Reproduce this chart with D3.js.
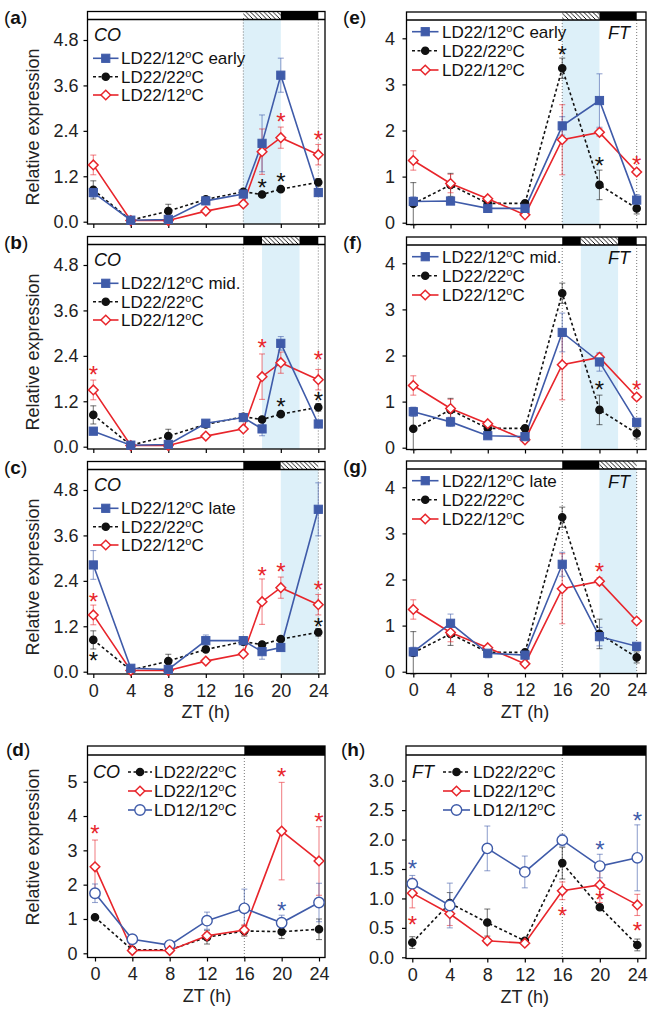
<!DOCTYPE html>
<html><head><meta charset="utf-8">
<script src="https://cdn.jsdelivr.net/npm/d3@7"></script>
<style>
body{margin:0;background:#fff}
svg{display:block}
text{font-family:"Liberation Sans",Arial,sans-serif}
</style>
</head><body>
<svg id="c" width="659" height="1018"></svg>
<script>
// ---------------- DATA ----------------
const hoursCO = [0, 4, 8, 12, 16, 18, 20, 24];
const hoursFT = [0, 4, 8, 12, 16, 20, 24];
const hoursD = [0, 4, 8, 12, 16, 20, 24];
const xTicks = [0, 4, 8, 12, 16, 20, 24];

// CO, panels a-c
const co22_22 = [0.84, 0.04, 0.28, 0.59, 0.79, 0.72, 0.86, 1.04];
const co22_22Err = [0.24, 0.03, 0.18, 0.05, 0.06, 0.05, 0.06, 0.10];
const co22_12 = [1.50, 0.03, 0.03, 0.28, 0.47, 1.85, 2.22, 1.77];
const co22_12Err = [0.26, 0.03, 0.03, 0.04, 0.05, 0.60, 0.28, 0.27];
const coEarly = [0.77, 0.04, 0.06, 0.55, 0.73, 2.07, 3.87, 0.77];
const coEarlyErr = [0.12, 0.03, 0.03, 0.05, 0.06, 0.75, 0.45, 0.10];
const coMid = [0.41, 0.04, 0.06, 0.62, 0.77, 0.47, 2.73, 0.60];
const coMidErr = [0.05, 0.03, 0.03, 0.05, 0.06, 0.18, 0.18, 0.06];
const coLate = [2.82, 0.09, 0.06, 0.82, 0.82, 0.53, 0.64, 4.29];
const coLateErr = [0.38, 0.03, 0.03, 0.15, 0.06, 0.20, 0.06, 0.70];

// FT, panels e-g
const ft22_22 = [0.41, 0.82, 0.42, 0.42, 3.35, 0.82, 0.31];
const ft22_22Err = [0.46, 0.25, 0.05, 0.05, 0.22, 0.32, 0.12];
const ft22_12 = [1.35, 0.85, 0.52, 0.17, 1.80, 1.96, 1.10];
const ft22_12Err = [0.21, 0.20, 0.05, 0.05, 0.76, 0.08, 0.06];
const ftEarly = [0.46, 0.47, 0.31, 0.31, 2.10, 2.65, 0.49];
const ftEarlyErr = [0.10, 0.06, 0.05, 0.05, 0.20, 0.58, 0.12];
const ftMid = [0.78, 0.56, 0.26, 0.24, 2.50, 1.86, 0.55];
const ftMidErr = [0.10, 0.10, 0.05, 0.05, 0.42, 0.20, 0.05];
const ftLate = [0.43, 1.05, 0.40, 0.36, 2.33, 0.76, 0.55];
const ftLateErr = [0.10, 0.20, 0.10, 0.05, 0.26, 0.20, 0.05];

// CO, panel d
const d22_22 = [1.05, 0.10, 0.10, 0.47, 0.65, 0.63, 0.70];
const d22_22Err = [0.05, 0.03, 0.03, 0.20, 0.15, 0.20, 0.30];
const d22_12 = [2.52, 0.08, 0.08, 0.51, 0.68, 3.56, 2.69];
const d22_12Err = [0.78, 0.03, 0.03, 0.10, 0.15, 1.42, 1.00];
const d12_12 = [1.75, 0.41, 0.24, 0.95, 1.31, 0.89, 1.48];
const d12_12Err = [0.27, 0.12, 0.05, 0.25, 0.56, 0.22, 0.56];

// FT, panel h
const h22_22 = [0.25, 0.92, 0.59, 0.28, 1.60, 0.85, 0.21];
const h22_22Err = [0.10, 0.18, 0.23, 0.03, 0.27, 0.04, 0.10];
const h22_12 = [1.09, 0.74, 0.28, 0.24, 1.13, 1.23, 0.89];
const h22_12Err = [0.25, 0.20, 0.04, 0.03, 0.15, 0.30, 0.18];
const h12_12 = [1.25, 0.88, 1.85, 1.45, 1.99, 1.55, 1.69];
const h12_12Err = [0.14, 0.38, 0.38, 0.27, 0.10, 0.20, 0.56];

// y tick labels
const yTicksCO = [0, 1.2, 2.4, 3.6, 4.8];
const yTicksFT = [0, 1, 2, 3, 4];
const yTicksD = [0, 1, 2, 3, 4, 5];
const yTicksH = [0, 0.5, 1.0, 1.5, 2.0, 2.5, 3.0];

// significance asterisks: [hour, value-position, group]
const starsA = [[18, 1.03, 'k'], [20, 1.19, 'k'], [20, 2.76, 'r'], [24, 2.29, 'r']];
const starsB = [[0, 2.03, 'r'], [18, 2.73, 'r'], [24, 2.41, 'r'], [20, 1.19, 'k'], [24, 1.35, 'k']];
const starsC = [[0, 1.98, 'r'], [18, 2.67, 'r'], [20, 2.76, 'r'], [24, 2.29, 'r'], [0, 0.41, 'k'], [24, 1.32, 'k']];
const starsE = [[16, 3.75, 'k'], [20, 1.34, 'k'], [24, 1.37, 'r']];
const starsF = [[20, 1.37, 'k'], [24, 1.37, 'r']];
const starsG = [[20, 2.27, 'r']];
const starsD = [[0, 3.61, 'r'], [20, 5.29, 'r'], [24, 3.98, 'r'], [20, 1.38, 'b']];
const starsH = [[0, 1.58, 'b'], [20, 1.91, 'b'], [24, 2.40, 'b'], [0, 0.63, 'r'], [16, 0.78, 'r'], [20, 1.05, 'r'], [24, 0.53, 'r']];

// light/dark bar segments: [from, to(null = frame edge), kind]; blue-shaded cold window
const barA = [[16, 20, 'hatch'], [20, 24, 'dark']];
const barB = [[16, 18, 'dark'], [18, 22, 'hatch'], [22, 24, 'dark']];
const barC = [[16, 20, 'dark'], [20, 24, 'hatch']];
const barD = [[16, null, 'dark']];
const shadeA = [16, 20], shadeB = [18, 22], shadeC = [20, 24];

// ---------------- STYLES ----------------
const BLUE = '#3f5ba9', RED = '#e8252b', BLACK = '#111';
const starColor = {k: '#111', r: RED, b: BLUE};
const sty = {
  ctrl: {color: BLACK, dash: '3,2.5', marker: 'circle', fill: BLACK, r: 3.6},
  cold: {color: RED, dash: null, marker: 'diamond', fill: '#fff', r: 4.8},
  blue: {color: BLUE, dash: null, marker: 'square', fill: BLUE, r: 4.1},
  blueO: {color: BLUE, dash: null, marker: 'circle', fill: '#fff', r: 5.2}
};

const svg = d3.select('#c');
const defs = svg.append('defs');
const pat = defs.append('pattern').attr('id', 'hatch').attr('patternUnits', 'userSpaceOnUse')
  .attr('width', 4.5).attr('height', 4.5);
pat.append('rect').attr('width', 4.5).attr('height', 4.5).attr('fill', '#fff');
pat.append('path').attr('d', 'M0,0L4.5,4.5M-1,3.5L1,5.5M3.5,-1L5.5,1')
  .attr('stroke', '#000').attr('stroke-width', 0.9);

function degText(sel, pre, post) {
  sel.append('tspan').text(pre);
  sel.append('tspan').attr('font-size', 11).attr('dy', -6).text('o');
  sel.append('tspan').attr('dy', 6).text(post);
}

function marker(g, st, cx, cy) {
  if (st.marker === 'circle') {
    g.append('circle').attr('cx', cx).attr('cy', cy).attr('r', st.r)
      .attr('fill', st.fill).attr('stroke', st.color).attr('stroke-width', 1.4);
  } else if (st.marker === 'square') {
    g.append('rect').attr('x', cx - st.r).attr('y', cy - st.r).attr('width', 2 * st.r).attr('height', 2 * st.r)
      .attr('fill', st.fill).attr('stroke', st.color).attr('stroke-width', 1);
  } else {
    const h = st.r;
    g.append('path').attr('d', `M${cx},${cy - h}L${cx + h},${cy}L${cx},${cy + h}L${cx - h},${cy}Z`)
      .attr('fill', st.fill).attr('stroke', st.color).attr('stroke-width', 1.5);
  }
}

function drawPanel(p) {
  const g = svg.append('g');
  const x = d3.scaleLinear().domain([0, 24]).range([p.x0, p.x24]);
  const y = d3.scaleLinear().domain([0, p.yRef]).range([p.y0, p.yRefPx]);

  if (p.shade) {
    g.append('rect').attr('x', x(p.shade[0])).attr('y', p.plotTop)
      .attr('width', x(p.shade[1]) - x(p.shade[0])).attr('height', p.bottom - p.plotTop)
      .attr('fill', '#ddf0f9');
  }
  p.vlines.forEach(h => {
    g.append('line').attr('x1', x(h)).attr('x2', x(h)).attr('y1', p.plotTop).attr('y2', p.bottom)
      .attr('stroke', '#777').attr('stroke-width', 1).attr('stroke-dasharray', '1,2');
  });
  // light/dark bar
  g.append('rect').attr('x', p.left).attr('y', p.barTop).attr('width', p.right - p.left)
    .attr('height', p.plotTop - p.barTop).attr('fill', '#fff');
  p.bar.forEach(([a, b, kind]) => {
    const x1 = x(a), x2 = b === null ? p.right : x(b);
    g.append('rect').attr('x', x1).attr('y', p.barTop).attr('width', x2 - x1)
      .attr('height', p.plotTop - p.barTop)
      .attr('fill', kind === 'dark' ? '#000' : 'url(#hatch)');
  });
  g.append('line').attr('x1', p.left).attr('x2', p.right).attr('y1', p.plotTop).attr('y2', p.plotTop)
    .attr('stroke', '#000').attr('stroke-width', 1.3);
  g.append('rect').attr('x', p.left).attr('y', p.barTop).attr('width', p.right - p.left)
    .attr('height', p.bottom - p.barTop).attr('fill', 'none').attr('stroke', '#000').attr('stroke-width', 1.3);

  // axes
  const ya = g.append('g').attr('transform', `translate(${p.left},0)`)
    .call(d3.axisLeft(y).tickValues(p.yTicks).tickSize(4).tickPadding(p.yPad)
      .tickFormat(p.yFmt ? d3.format(p.yFmt) : d3.format('d')));
  ya.select('.domain').remove();
  ya.selectAll('text').attr('font-size', 18).attr('fill', '#222').attr('font-family', '"Liberation Sans",Arial,sans-serif');
  ya.selectAll('line').attr('stroke-width', 1.2);

  const xa = g.append('g').attr('transform', `translate(0,${p.bottom})`)
    .call(d3.axisBottom(x).tickValues(xTicks).tickSize(4).tickPadding(6)
      .tickFormat(p.xLabels ? d3.format('d') : () => ''));
  xa.select('.domain').remove();
  xa.selectAll('text').attr('font-size', 18).attr('fill', '#222').attr('font-family', '"Liberation Sans",Arial,sans-serif');
  xa.selectAll('line').attr('stroke-width', 1.2);
  if (p.xLabels) {
    g.append('text').attr('x', (p.x0 + p.x24) / 2).attr('y', p.bottom + 44).attr('text-anchor', 'middle')
      .attr('font-size', 18).attr('fill', '#222').text('ZT (h)');
  }
  if (p.yTitle) {
    g.append('text').attr('transform', `translate(33,${p.yTitleC}) rotate(-90)`)
      .attr('text-anchor', 'middle').attr('dominant-baseline', 'central')
      .attr('font-size', 18).attr('fill', '#222').text('Relative expression');
  }

  // series
  const eb = g.append('g'), ln = g.append('g'), mk = g.append('g');
  p.series.forEach(s => {
    const st = sty[s.style];
    s.vals.forEach((v, i) => {
      const cx = x(s.hours[i]), e = s.errs[i];
      const col = st.color;
      eb.append('line').attr('x1', cx).attr('x2', cx).attr('y1', y(v - e)).attr('y2', y(v + e))
        .attr('stroke', col).attr('stroke-opacity', 0.55).attr('stroke-width', 1.1);
      [v - e, v + e].forEach(w => {
        eb.append('line').attr('x1', cx - 3).attr('x2', cx + 3).attr('y1', y(w)).attr('y2', y(w))
          .attr('stroke', col).attr('stroke-opacity', 0.55).attr('stroke-width', 1.1);
      });
    });
    const line = d3.line().x((d, i) => x(s.hours[i])).y(d => y(d));
    ln.append('path').attr('d', line(s.vals)).attr('fill', 'none').attr('stroke', st.color)
      .attr('stroke-width', 1.6).attr('stroke-dasharray', st.dash);
  });
  p.drawOrder.forEach(k => {
    const s = p.series[k], st = sty[s.style];
    s.vals.forEach((v, i) => marker(mk, st, x(s.hours[i]), y(v)));
  });

  // asterisks
  p.stars.forEach(([h, v, c]) => {
    g.append('text').attr('x', x(h)).attr('y', y(v) + 13).attr('text-anchor', 'middle')
      .attr('font-size', 24).attr('fill', starColor[c]).text('*');
  });

  // legend
  const L = p.legend;
  g.append('text').attr('x', L.geneX).attr('y', L.geneY).attr('text-anchor', L.geneAnchor)
    .attr('dominant-baseline', 'central').attr('font-size', 18).attr('font-style', 'italic')
    .attr('fill', '#111').text(p.gene);
  L.order.forEach((k, j) => {
    const s = p.series[k], st = sty[s.style], yy = L.ys[j];
    g.append('line').attr('x1', L.lx1).attr('x2', L.lx2).attr('y1', yy).attr('y2', yy)
      .attr('stroke', st.color).attr('stroke-width', 1.6).attr('stroke-dasharray', st.dash);
    marker(g, st, (L.lx1 + L.lx2) / 2, yy);
    const t = g.append('text').attr('x', L.tx).attr('y', yy + 6).attr('font-size', 17).attr('fill', '#111');
    degText(t, s.pre, s.post);
  });

  // panel label
  const lab = g.append('text').attr('x', p.labX).attr('y', p.labY).attr('font-size', 19).attr('fill', '#111');
  lab.append('tspan').text('(');
  lab.append('tspan').attr('font-weight', 'bold').text(p.label);
  lab.append('tspan').text(')');
}

function S(hours, vals, errs, style, pre, post) { return {hours, vals, errs, style, pre, post}; }

// ---------------- PANELS ----------------
function leftTop(off, label, treat, treatErr, treatName, bar, shade, stars, xLabels) {
  return {
    label, gene: 'CO', left: 87.5, right: 325, barTop: 11.5 + off, plotTop: 19.5 + off, bottom: 224 + off,
    x0: 93.3, x24: 318.3, y0: 221.7 + off, yRef: 4.8, yRefPx: 40 + off, yTicks: yTicksCO, yFmt: '.1f', yPad: 5,
    series: [S(hoursCO, co22_22, co22_22Err, 'ctrl', 'LD22/22', 'C'),
             S(hoursCO, co22_12, co22_12Err, 'cold', 'LD22/12', 'C'),
             S(hoursCO, treat, treatErr, 'blue', 'LD22/12', 'C ' + treatName)],
    drawOrder: [0, 1, 2], bar, shade, vlines: [16, 24], stars, xLabels, yTitle: true, yTitleC: 127 + off,
    legend: {geneX: 94, geneY: 35 + off, geneAnchor: 'start', order: [2, 0, 1], ys: [58.3 + off, 76.7 + off, 95 + off],
             lx1: 93, lx2: 118.5, tx: 121},
    labX: 4, labY: 23.5 + off
  };
}
function rightTop(off, label, treat, treatErr, treatName, bar, shade, stars, xLabels) {
  return {
    label, gene: 'FT', left: 406.5, right: 646, barTop: 12 + off, plotTop: 20 + off, bottom: 224.5 + off,
    x0: 413.3, x24: 636.7, y0: 222.7 + off, yRef: 4, yRefPx: 38.3 + off, yTicks: yTicksFT, yFmt: null, yPad: 7.5,
    series: [S(hoursFT, ft22_22, ft22_22Err, 'ctrl', 'LD22/22', 'C'),
             S(hoursFT, ft22_12, ft22_12Err, 'cold', 'LD22/12', 'C'),
             S(hoursFT, treat, treatErr, 'blue', 'LD22/12', 'C ' + treatName)],
    drawOrder: [0, 1, 2], bar, shade, vlines: [16, 24], stars, xLabels, yTitle: false,
    legend: {geneX: 630, geneY: 33 + off, geneAnchor: 'end', order: [2, 0, 1], ys: [31.7 + off, 50.7 + off, 70 + off],
             lx1: 412, lx2: 438.5, tx: 442},
    labX: 343, labY: 23.5 + off
  };
}

const panels = [
  leftTop(0, 'a', coEarly, coEarlyErr, 'early', barA, shadeA, starsA, false),
  leftTop(225, 'b', coMid, coMidErr, 'mid.', barB, shadeB, starsB, false),
  leftTop(450, 'c', coLate, coLateErr, 'late', barC, shadeC, starsC, true),
  rightTop(0, 'e', ftEarly, ftEarlyErr, 'early', barA, shadeA, starsE, false),
  rightTop(225, 'f', ftMid, ftMidErr, 'mid.', barB, shadeB, starsF, false),
  rightTop(449, 'g', ftLate, ftLateErr, 'late', barC, shadeC, starsG, true),
  {
    label: 'd', gene: 'CO', left: 87.5, right: 325, barTop: 746, plotTop: 755, bottom: 957.5,
    x0: 95, x24: 319, y0: 953.3, yRef: 5, yRefPx: 781.7, yTicks: yTicksD, yFmt: null, yPad: 6,
    series: [S(hoursD, d22_22, d22_22Err, 'ctrl', 'LD22/22', 'C'),
             S(hoursD, d22_12, d22_12Err, 'cold', 'LD22/12', 'C'),
             S(hoursD, d12_12, d12_12Err, 'blueO', 'LD12/12', 'C')],
    drawOrder: [0, 2, 1], bar: barD, shade: null, vlines: [16], stars: starsD, xLabels: true,
    yTitle: true, yTitleC: 847,
    legend: {geneX: 93, geneY: 772, geneAnchor: 'start', order: [0, 1, 2], ys: [772, 791, 810],
             lx1: 128, lx2: 152, tx: 154},
    labX: 6, labY: 756
  },
  {
    label: 'h', gene: 'FT', left: 406, right: 646, barTop: 746, plotTop: 755, bottom: 958.5,
    x0: 412.3, x24: 637.3, y0: 957.3, yRef: 3, yRefPx: 780.7, yTicks: yTicksH, yFmt: '.1f', yPad: 8,
    series: [S(hoursD, h22_22, h22_22Err, 'ctrl', 'LD22/22', 'C'),
             S(hoursD, h22_12, h22_12Err, 'cold', 'LD22/12', 'C'),
             S(hoursD, h12_12, h12_12Err, 'blueO', 'LD12/12', 'C')],
    drawOrder: [0, 1, 2], bar: barD, shade: null, vlines: [16], stars: starsH, xLabels: true,
    yTitle: false,
    legend: {geneX: 412, geneY: 772, geneAnchor: 'start', order: [0, 1, 2], ys: [772, 791, 810],
             lx1: 443, lx2: 470, tx: 473},
    labX: 341, labY: 756
  }
];
panels.forEach(drawPanel);
</script>
</body></html>
